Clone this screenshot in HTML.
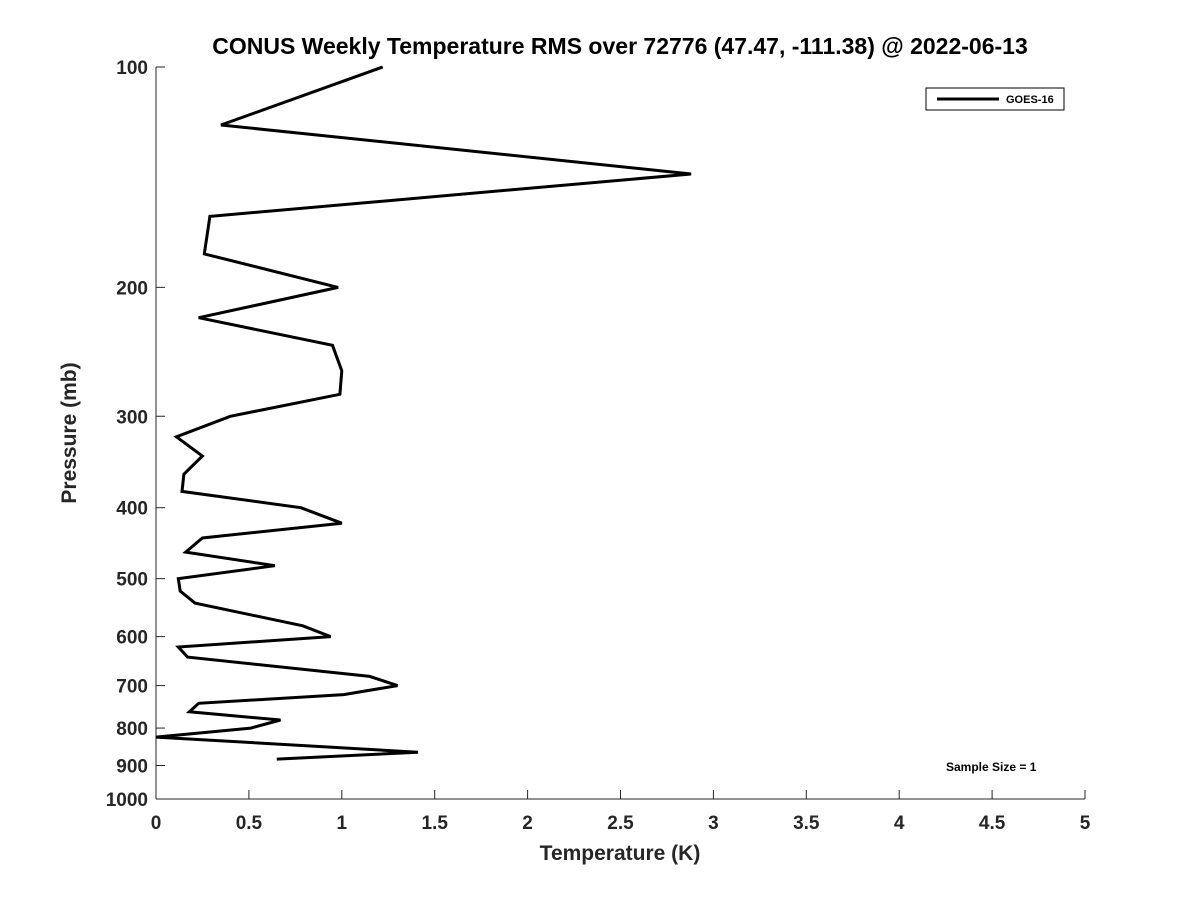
<!DOCTYPE html>
<html><head><meta charset="utf-8"><style>
body{margin:0;background:#fff;}
svg text{font-family:"Liberation Sans","DejaVu Sans",sans-serif;font-weight:bold;fill:#262626;}
</style></head><body>
<svg id="chart" width="1200" height="900" xmlns="http://www.w3.org/2000/svg">
<rect width="1200" height="900" fill="#fff"/>
<text x="620" y="54" font-size="23" text-anchor="middle" style="fill:#000">CONUS Weekly Temperature RMS over 72776 (47.47, -111.38) @ 2022-06-13</text>
<g id="axes"></g>
<path id="series" fill="none" stroke="#000" stroke-width="3" stroke-linejoin="miter"/>
<g>
<rect x="926" y="88" width="138" height="22" fill="#fff" stroke="#000" stroke-width="1"/>
<line x1="937" y1="99" x2="999" y2="99" stroke="#000" stroke-width="3"/>
<text x="1006" y="103" font-size="11" style="fill:#000">GOES-16</text>
</g>
<text x="946" y="771" font-size="12" style="fill:#000">Sample Size = 1</text>
<text x="620" y="860" font-size="21" text-anchor="middle">Temperature (K)</text>
<text transform="translate(76,433) rotate(-90)" font-size="21" text-anchor="middle">Pressure (mb)</text>
</svg>
<script>
const temps = [1.22,0.35,2.88,0.29,0.26,0.98,0.23,0.95,1.00,0.99,0.40,0.11,0.25,0.15,0.14,0.78,1.00,0.25,0.16,0.64,0.12,0.13,0.21,0.79,0.94,0.12,0.17,1.15,1.30,1.01,0.23,0.18,0.67,0.51,0.00,1.41,0.65];
const pressures = [100,120,140,160,180,200,220,240,260,280,300,320,340,360,380,400,420,440,460,480,500,520,540,580,600,620,640,680,700,720,740,760,780,800,823,863,882];
const xTicks = [0,0.5,1,1.5,2,2.5,3,3.5,4,4.5,5];
const xTickLabels = ["0","0.5","1","1.5","2","2.5","3","3.5","4","4.5","5"];
const yTicks = [100,200,300,400,500,600,700,800,900,1000];

const X0=156,X1=1085,Y0=67,Y1=799;
const xs = v => X0 + (v-0)/(5-0)*(X1-X0);
const ys = p => Y0 + Math.log10(p/100)/Math.log10(10)*(Y1-Y0);
const NS="http://www.w3.org/2000/svg";
const axes=document.getElementById('axes');
function mk(tag,attrs){const e=document.createElementNS(NS,tag);for(const k in attrs)e.setAttribute(k,attrs[k]);axes.appendChild(e);return e;}
let a=mk('line',{x1:X0,y1:Y0,x2:X0,y2:Y1,stroke:'#262626','stroke-width':1});


a=mk('line',{x1:X0,y1:Y1,x2:X1,y2:Y1,stroke:'#262626','stroke-width':1});


xTicks.forEach((v,i)=>{
  const t=mk('line',{x1:xs(v),y1:Y1,x2:xs(v),y2:Y1-9,stroke:'#262626'});
  
  
  const l=mk('text',{x:xs(v),y:Y1+30,'font-size':19,'text-anchor':'middle'});
  l.textContent=xTickLabels[i];
  
  
});
yTicks.forEach(p=>{
  const t=mk('line',{x1:X0,y1:ys(p),x2:X0+9,y2:ys(p),stroke:'#262626'});
  
  
  const l=mk('text',{x:X0-8,y:ys(p)+7,'font-size':19,'text-anchor':'end'});
  l.textContent=String(p);
  
  
});
document.getElementById('series').setAttribute('d',temps.map((t,i)=>(i?'L':'M')+xs(t).toFixed(1)+','+ys(pressures[i]).toFixed(1)).join(' '));
</script>
</body></html>
